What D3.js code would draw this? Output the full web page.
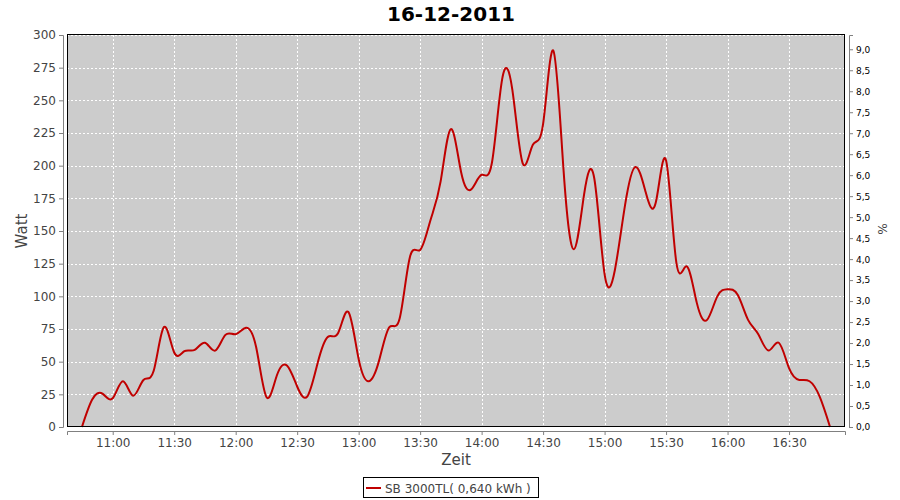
<!DOCTYPE html>
<html>
<head>
<meta charset="utf-8">
<script src="https://cdn.jsdelivr.net/npm/d3@7"></script>
<style>
  body { margin: 0; background: #fff; }
  svg { display: block; font-family: "DejaVu Sans", sans-serif; }
</style>
</head>
<body>
<svg id="chart" width="900" height="500"></svg>
<script>
const chartTitle = "16-12-2011";
const seriesName = "SB 3000TL( 0,640 kWh )";
const times = ["10:45","10:50","10:55","11:00","11:05","11:10","11:15","11:20","11:25","11:30",
  "11:35","11:40","11:45","11:50","11:55","12:00","12:05","12:10","12:15","12:20",
  "12:25","12:30","12:35","12:40","12:45","12:50","12:55","13:00","13:05","13:10",
  "13:15","13:20","13:25","13:30","13:35","13:40","13:45","13:50","13:55","14:00",
  "14:05","14:10","14:15","14:20","14:25","14:30","14:35","14:40","14:45","14:50",
  "14:55","15:00","15:05","15:10","15:15","15:20","15:25","15:30","15:35","15:40",
  "15:45","15:50","15:55","16:00","16:05","16:10","16:15","16:20","16:25","16:30",
  "16:35","16:40","16:45","16:50"];
const watts = [0,21,25.5,22,35,24,36,43,76.5,57,
  58,59,64.5,58.5,70.5,71,76,61,23,39,
  47,31,23.5,49,69,72,88,52,35,51,
  76.5,83,130,135.5,158,188,228,195,182,193,
  202,266,258,202,216,232,288,196,136,178,
  190,117,120,170,199,180,172,204,126,123,
  95,82,100,105.5,101,82,71,58.5,64.5,45,
  36,35,23,0];
const xTickLabels = ["11:00","11:30","12:00","12:30","13:00","13:30","14:00","14:30","15:00","15:30","16:00","16:30"];
const yTicks = [0,25,50,75,100,125,150,175,200,225,250,275,300];
const pctTicks = [0,0.5,1,1.5,2,2.5,3,3.5,4,4.5,5,5.5,6,6.5,7,7.5,8,8.5,9];

const parseT = s => { const [h,m] = s.split(":").map(Number); return new Date(2011,11,16,h,m); };
const data = times.map((t,i) => ({t: parseT(t), v: watts[i]}));

const svg = d3.select("#chart");
const L = 67, R = 845, T = 35, B = 427;

const x = d3.scaleTime()
  .domain([new Date(2011,11,16,10,37,42), new Date(2011,11,16,16,57,18)])
  .range([L, R]);
const y = d3.scaleLinear().domain([0,300]).range([B, T]);
const y2 = d3.scaleLinear().domain([0,9.34]).range([B, T]);

// plot background
svg.append("rect").attr("x",L).attr("y",T).attr("width",R-L).attr("height",B-T).attr("fill","#cccccc");

// grid
const xTickDates = xTickLabels.map(parseT);
svg.append("g").selectAll("line").data(xTickDates).join("line")
  .attr("x1",d=>Math.round(x(d))+0.5).attr("x2",d=>Math.round(x(d))+0.5)
  .attr("y1",T).attr("y2",B)
  .attr("stroke","#fff").attr("stroke-width",1).attr("stroke-dasharray","2,2");
svg.append("g").selectAll("line").data(yTicks.slice(1)).join("line")
  .attr("x1",L).attr("x2",R)
  .attr("y1",d=>Math.round(y(d))+0.5).attr("y2",d=>Math.round(y(d))+0.5)
  .attr("stroke","#fff").attr("stroke-width",1).attr("stroke-dasharray","2,2");

// line
const line = d3.line().x(d=>x(d.t)).y(d=>y(d.v)).curve(d3.curveNatural);
svg.append("path").datum(data).attr("d",line)
  .attr("fill","none").attr("stroke","#c00000").attr("stroke-width",2);

// plot border
svg.append("rect").attr("x",L+0.5).attr("y",T-0.5).attr("width",R-L-1).attr("height",B-T)
  .attr("fill","none").attr("stroke","#000").attr("stroke-width",1);

// axes
const axisColor = "#808080";
const gl = svg.append("g").attr("transform",`translate(${L-4},0)`)
  .call(d3.axisLeft(y).tickValues(yTicks).tickSize(4).tickPadding(3));
const gb = svg.append("g").attr("transform",`translate(0,${B+4})`)
  .call(d3.axisBottom(x).tickValues(xTickDates).tickFormat(d3.timeFormat("%H:%M")).tickSize(4).tickPadding(3));
const gr = svg.append("g").attr("transform",`translate(${R+4},0)`)
  .call(d3.axisRight(y2).tickValues(pctTicks).tickFormat(d=>d3.format(".1f")(d).replace(".",",")).tickSize(4).tickPadding(3));

[gl,gb].forEach(g => {
  g.selectAll(".domain").attr("stroke",axisColor);
  g.selectAll(".tick line").attr("stroke",axisColor);
  g.selectAll("text").attr("fill","#444").attr("font-size","12px").attr("font-family","DejaVu Sans");
});
gr.selectAll(".domain").attr("stroke",axisColor);
gr.selectAll(".tick line").attr("stroke",axisColor);
gr.selectAll("text").attr("fill","#000").attr("font-size","9px").attr("font-family","DejaVu Sans");

// title
svg.append("text").attr("x",451).attr("y",21).attr("text-anchor","middle")
  .attr("font-size","20px").attr("font-weight","bold").attr("fill","#000").text(chartTitle);

// axis labels
svg.append("text").attr("transform","translate(27,231) rotate(-90)").attr("text-anchor","middle")
  .attr("font-size","15px").attr("fill","#444").text("Watt");
svg.append("text").attr("x",456).attr("y",465).attr("text-anchor","middle")
  .attr("font-size","15px").attr("fill","#444").text("Zeit");
svg.append("text").attr("transform","translate(878,229) rotate(90)").attr("text-anchor","middle")
  .attr("font-size","12px").attr("fill","#444").text("%");

// legend
const lg = svg.append("g");
lg.append("rect").attr("x",363.5).attr("y",477.5).attr("width",175).attr("height",20)
  .attr("fill","#fff").attr("stroke","#000").attr("stroke-width",1);
lg.append("line").attr("x1",366).attr("x2",381).attr("y1",488).attr("y2",488)
  .attr("stroke","#c00000").attr("stroke-width",2);
lg.append("text").attr("x",385).attr("y",492.5).attr("font-size","12px").attr("fill","#444").text(seriesName);
</script>
</body>
</html>
